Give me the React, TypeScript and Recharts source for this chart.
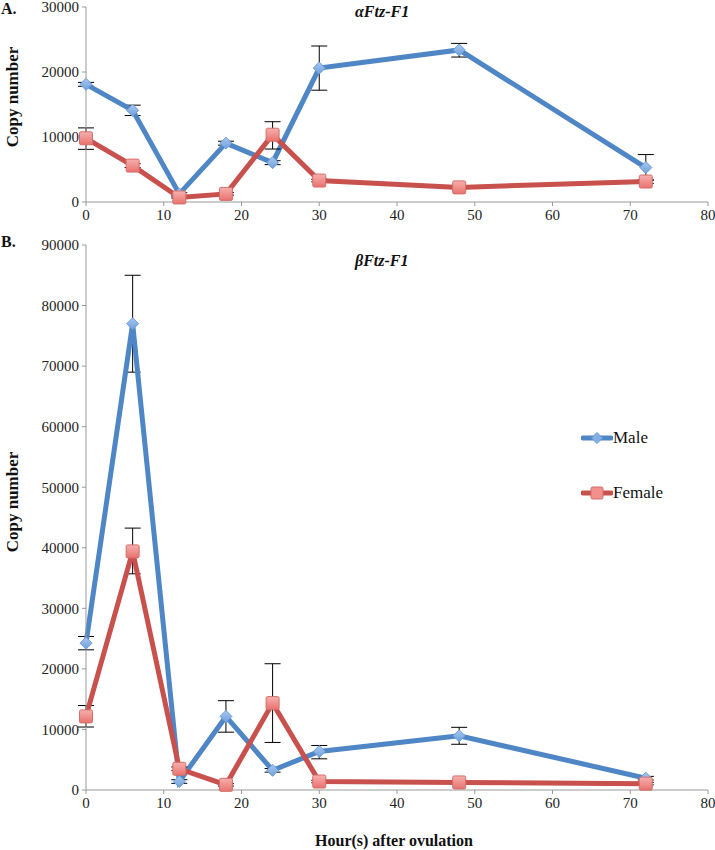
import React from 'react';
import { LineChart, Line, XAxis, YAxis, ErrorBar } from 'recharts';

// hours after ovulation
const hours = [0, 6, 12, 18, 24, 30, 48, 72];
const xTicks = [0, 10, 20, 30, 40, 50, 60, 70, 80];

// alpha Ftz-F1
const alphaMale = [18100, 14100, 1250, 9050, 6050, 20600, 23400, 5300];
const alphaMaleErr = [[300, 300], [800, 800], [200, 200], [300, 300], [300, 300], [3400, 3400], [1100, 1000], [2000, 2000]];
const alphaFemale = [9800, 5600, 700, 1250, 10350, 3300, 2250, 3150];
const alphaFemaleErr = [[1700, 1600], [300, 300], [100, 100], [200, 200], [2200, 2000], [200, 200], [200, 200], [300, 300]];
const alphaTicks = [0, 10000, 20000, 30000];

// beta Ftz-F1
const betaMale = [24250, 77000, 1400, 12150, 3250, 6350, 8950, 1950];
const betaMaleErr = [[1100, 1100], [8000, 8000], [300, 300], [2600, 2600], [300, 300], [1200, 1000], [1400, 1400], [300, 300]];
const betaFemale = [12150, 39400, 3500, 850, 14350, 1400, 1250, 1050];
const betaFemaleErr = [[1750, 1800], [3700, 3850], [300, 300], [200, 200], [6500, 6500], [200, 200], [200, 200], [200, 200]];
const betaTicks = [0, 10000, 20000, 30000, 40000, 50000, 60000, 70000, 80000, 90000];

const seriesNames = ['Male', 'Female'];

const FONT = 'Liberation Serif';
const BLUE = '#4F86C6';
const RED = '#C8504D';

const makeData = (male: number[], maleErr: number[][], female: number[], femaleErr: number[][]) =>
  hours.map((h, i) => ({ hour: h, male: male[i], maleErr: maleErr[i], female: female[i], femaleErr: femaleErr[i] }));

const alphaData = makeData(alphaMale, alphaMaleErr, alphaFemale, alphaFemaleErr);
const betaData = makeData(betaMale, betaMaleErr, betaFemale, betaFemaleErr);

const Diamond = (props: any) => {
  const { cx, cy, index } = props;
  if (cx == null || cy == null) return null;
  const r = 6;
  return (
    <path
      key={`dm-${index}`}
      d={`M${cx},${cy - r}L${cx + r},${cy}L${cx},${cy + r}L${cx - r},${cy}Z`}
      fill="url(#blueGrad)"
      stroke="#6D9CD6"
      strokeWidth={1}
    />
  );
};

const Square = (props: any) => {
  const { cx, cy, index } = props;
  if (cx == null || cy == null) return null;
  const s = 6.5;
  return (
    <rect
      key={`sq-${index}`}
      x={cx - s}
      y={cy - s}
      width={s * 2}
      height={s * 2}
      rx={1.5}
      fill="url(#redGrad)"
      stroke="#D26F6C"
      strokeWidth={1}
    />
  );
};

const Grads = () => (
  <defs>
    <linearGradient id="blueGrad" x1="0" y1="0" x2="0" y2="1">
      <stop offset="0%" stopColor="#A9C8F0" />
      <stop offset="100%" stopColor="#6E9FDB" />
    </linearGradient>
    <linearGradient id="redGrad" x1="0" y1="0" x2="0" y2="1">
      <stop offset="0%" stopColor="#F7B0AD" />
      <stop offset="100%" stopColor="#E8726E" />
    </linearGradient>
  </defs>
);

const LegendBox = () => (
  <div style={{ position: 'absolute', left: 581, top: 428, fontFamily: FONT, fontSize: 17, color: '#111' }}>
    {seriesNames.map((name, i) => {
      const isMale = i === 0;
      return (
        <div key={name} style={{ display: 'flex', alignItems: 'center', height: 20, marginBottom: i === 0 ? 35 : 0 }}>
          <svg width={32} height={16}>
            <line x1={2} y1={8} x2={30} y2={8} stroke={isMale ? BLUE : RED} strokeWidth={5} strokeLinecap="round" />
            {isMale ? (
              <path d="M16,2.5L21.5,8L16,13.5L10.5,8Z" fill="#84AFE6" stroke="#6D9CD6" />
            ) : (
              <rect x={10} y={2} width={12} height={12} rx={1.5} fill="#F0918D" stroke="#D26F6C" />
            )}
          </svg>
          <span>{name}</span>
        </div>
      );
    })}
  </div>
);

const tickStyle = { fontFamily: FONT, fontSize: 15, fill: '#222' };

type PanelProps = {
  data: any[];
  yTicks: number[];
  height: number;
  top: number;
};

const Panel = ({ data, yTicks, height, top }: PanelProps) => (
  <LineChart
    width={715}
    height={height}
    data={data}
    margin={{ top: top, right: 7, left: 0, bottom: 6 }}
  >
    <Grads />
    <XAxis
      dataKey="hour"
      type="number"
      domain={[0, 80]}
      ticks={xTicks}
      interval={0}
      stroke="#999"
      tickSize={4}
      tickMargin={3}
      height={22}
      tick={tickStyle}
    />
    <YAxis
      type="number"
      domain={[yTicks[0], yTicks[yTicks.length - 1]]}
      ticks={yTicks}
      interval={0}
      width={86}
      stroke="#999"
      tickSize={4}
      tickMargin={3}
      tick={tickStyle}
    />
    <Line
      type="linear"
      dataKey="male"
      name={seriesNames[0]}
      stroke={BLUE}
      strokeWidth={5}
      dot={Diamond}
      activeDot={false}
      isAnimationActive={false}
    >
      <ErrorBar dataKey="maleErr" direction="y" width={8} stroke="#000" strokeWidth={1} />
    </Line>
    <Line
      type="linear"
      dataKey="female"
      name={seriesNames[1]}
      stroke={RED}
      strokeWidth={5}
      dot={Square}
      activeDot={false}
      isAnimationActive={false}
    >
      <ErrorBar dataKey="femaleErr" direction="y" width={8} stroke="#000" strokeWidth={1} />
    </Line>
  </LineChart>
);

const abs = (left: number, top: number): React.CSSProperties => ({
  position: 'absolute',
  left,
  top,
  fontFamily: FONT,
  whiteSpace: 'nowrap',
  color: '#111',
  lineHeight: '18px',
});

const App = () => {
  return (
    <div style={{ position: 'absolute', left: 0, top: 0, width: 715, height: 850, background: '#fff' }}>
      <div style={{ position: 'absolute', left: 0, top: 0 }}>
        <Panel data={alphaData} yTicks={alphaTicks} height={230} top={7} />
      </div>
      <div style={{ position: 'absolute', left: 0, top: 235 }}>
        <Panel data={betaData} yTicks={betaTicks} height={583} top={10} />
      </div>
      <LegendBox />

      <div style={{ ...abs(1, 0), fontSize: 16, fontWeight: 'bold' }}>A.</div>
      <div style={{ ...abs(1, 233), fontSize: 16, fontWeight: 'bold' }}>B.</div>

      <div style={{ ...abs(355, 3), fontSize: 16, fontWeight: 'bold', fontStyle: 'italic' }}>αFtz-F1</div>
      <div style={{ ...abs(355, 252), fontSize: 16, fontWeight: 'bold', fontStyle: 'italic' }}>βFtz-F1</div>

      <div style={{ ...abs(13, 97), fontSize: 17, fontWeight: 'bold', transform: 'translate(-50%, -50%) rotate(-90deg)' }}>
        Copy number
      </div>
      <div style={{ ...abs(13, 502), fontSize: 17, fontWeight: 'bold', transform: 'translate(-50%, -50%) rotate(-90deg)' }}>
        Copy number
      </div>

      <div style={{ ...abs(394, 841), fontSize: 16, fontWeight: 'bold', transform: 'translate(-50%, -50%)' }}>
        Hour(s) after ovulation
      </div>
    </div>
  );
};

export default App;
